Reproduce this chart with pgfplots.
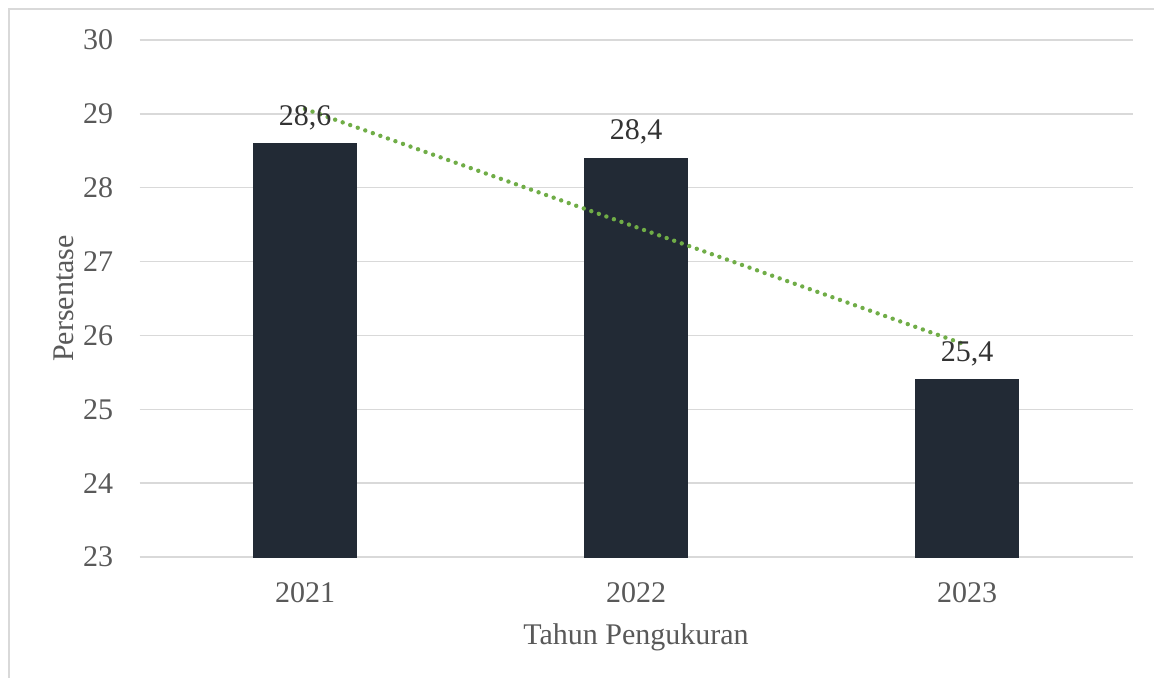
\documentclass[border=0pt]{standalone}
\usepackage{pgfplots}
\pgfplotsset{compat=1.18}
\usepackage{fontspec}
\setmainfont{Liberation Serif}
\definecolor{barcol}{HTML}{222A35}
\definecolor{trendcol}{HTML}{70AD47}
\definecolor{gridcol}{HTML}{D9D9D9}
\definecolor{txtcol}{HTML}{595959}

\begin{document}
\fontsize{15}{18}\selectfont
\begin{tikzpicture}
% canvas: 1 px of the reference = 0.5pt, axis box origin at px (139.5,557)
\useasboundingbox (-69.75pt,-60pt) rectangle (507.25pt,278.5pt);
\fill[white] (-69.75pt,-60pt) rectangle (507.25pt,278.5pt);
\draw[gridcol,line width=0.8pt] (-65.25pt,-61pt) -- (-65.25pt,274pt) -- (508pt,274pt);
\begin{axis}[
  scale only axis,
  width=496.5pt, height=258.5pt,
  ybar, bar width=51.7pt,
  xmin=-0.5, xmax=2.5,
  ymin=23, ymax=30,
  ytick={23,...,30},
  xtick={0,1,2},
  xticklabels={2021,2022,2023},
  axis line style={draw=none},
  major tick length=0pt,
  ymajorgrids, grid style={gridcol,line width=0.75pt},
  tick label style={font=\fontsize{15}{18}\selectfont, text=txtcol},
  /pgf/number format/assume math mode=true,
  yticklabel style={xshift=-8pt},
  xticklabel style={yshift=-7.5pt},
  xlabel={Tahun Pengukuran},
  ylabel={Persentase},
  label style={font=\fontsize{15}{18}\selectfont, text=txtcol},
  xlabel style={at={(rel axis cs:0.5,0)}, anchor=center, yshift=-40pt},
  ylabel style={at={(rel axis cs:0,0.5)}, anchor=center, yshift=38pt},
  nodes near coords,
  nodes near coords style={font=\fontsize{15}{18}\selectfont, text=black!80,
    anchor=south, inner sep=0pt, text depth=0pt, yshift=9pt,
    /pgf/number format/.cd, fixed, fixed zerofill, precision=1, use comma},
]
\addplot[fill=barcol, draw=barcol] coordinates {(0,28.6) (1,28.4) (2,25.4)};
\addplot[sharp plot, no marks, nodes near coords={}, trendcol, line width=2.2pt,
  line cap=round, dash pattern=on 0pt off 4pt, forget plot]
  coordinates {(0,29.067) (2,25.867)};
\end{axis}
\end{tikzpicture}
\end{document}
